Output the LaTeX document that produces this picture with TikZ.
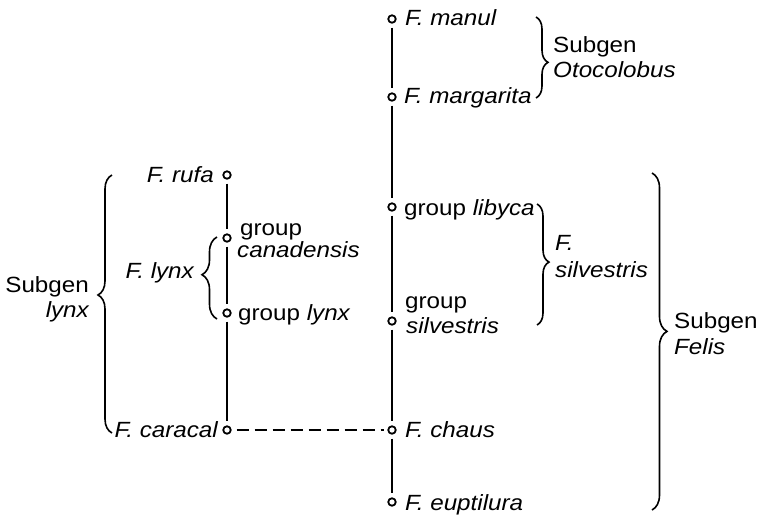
\documentclass[tikz,border=0pt]{standalone}
\usepackage{fontspec}
\setmainfont{Liberation Sans}[FakeStretch=1.1]
\usetikzlibrary{decorations.pathreplacing}
\begin{document}
\begin{tikzpicture}[x=1pt,y=-1pt,
  dot/.style={circle,draw,line width=1.8pt,inner sep=0pt,minimum size=7.5pt},
  stem/.style={line width=1.8pt,shorten <=4pt,shorten >=4pt},
  link/.style={line width=1.8pt,dash pattern=on 12pt off 6pt,shorten <=5pt,shorten >=3pt},
  lbl/.style={inner sep=0pt,font=\fontsize{22}{26}\selectfont},
  sp/.style={inner sep=0pt,font=\fontsize{22}{26}\selectfont\itshape},
  brc/.style={decorate,line width=1.6pt},
]
\fill[white] (0,0) rectangle (758,515);
\useasboundingbox (0,0) rectangle (758,515);

% main column
\node[dot] (manul) at (392,19) {};
\node[dot] (marg)  at (392,97) {};
\node[dot] (lib)   at (392,207) {};
\node[dot] (silv)  at (392,321) {};
\node[dot] (chaus) at (392,430) {};
\node[dot] (eupt)  at (392,502) {};
% lynx column
\node[dot] (rufa)  at (227,175) {};
\node[dot] (can)   at (227,238) {};
\node[dot] (lynxg) at (227,313) {};
\node[dot] (car)   at (227,430) {};

\draw[stem] (manul) -- (marg);
\draw[stem] (marg) -- (lib);
\draw[stem] (lib) -- (silv);
\draw[stem] (silv) -- (chaus);
\draw[stem] (chaus) -- (eupt);
\draw[stem] (rufa) -- (can);
\draw[stem] (can) -- (lynxg);
\draw[stem] (lynxg) -- (car);
\draw[link] (car) -- (chaus);

% labels
\node[sp,anchor=base west] (tmanul) at (405,25) {F. manul};
\node[sp,anchor=base west] (tmarg) at (404,103) {F. margarita};
\node[lbl,anchor=base west] (tlib) at (404,215) {group \textit{libyca}};
\node[lbl,anchor=base west] (tsilva) at (405,308) {group};
\node[sp,anchor=base west] (tsilvb) at (406,333) {silvestris};
\node[sp,anchor=base west] (tchaus) at (405,437) {F. chaus};
\node[sp,anchor=base west] (teupt) at (405,510) {F. euptilura};

\node[sp,anchor=base east] (trufa) at (214,182) {F. rufa};
\node[lbl,anchor=base west] (tcana) at (240,235) {group};
\node[sp,anchor=base west] (tcanb) at (237,257) {canadensis};
\node[lbl,anchor=base west] (tlynxg) at (238,320) {group \textit{lynx}};
\node[sp,anchor=base east] (tcar) at (218,437) {F. caracal};
\node[sp,anchor=base east] (tflynx) at (194,278) {F. lynx};

\node[lbl,anchor=base east] (tsla) at (89,292) {Subgen};
\node[sp,anchor=base east] (tslb) at (89,317) {lynx};
\node[lbl,anchor=base west] (toa) at (553,52) {Subgen};
\node[sp,anchor=base west] (tob) at (553,77) {Otocolobus};
\node[sp,anchor=base west] (tfsa) at (555,250) {F.};
\node[sp,anchor=base west] (tfsb) at (555,277) {silvestris};
\node[lbl,anchor=base west] (tfea) at (674,328) {Subgen};
\node[sp,anchor=base west] (tfeb) at (674,354) {Felis};

% braces
\draw[brc,decoration={brace,amplitude=12pt,aspect=0.56}] (536,17) -- (536,98);
\draw[brc,decoration={brace,amplitude=12pt,aspect=0.48}] (537,204) -- (537,325);
\draw[brc,decoration={brace,amplitude=15pt,aspect=0.47}] (652,173) -- (652,510);
\draw[brc,decoration={brace,amplitude=14pt,aspect=0.535}] (112,433) -- (112,175);
\draw[brc,decoration={brace,amplitude=15pt,aspect=0.54}] (217,319) -- (217,237);
\end{tikzpicture}
\end{document}
